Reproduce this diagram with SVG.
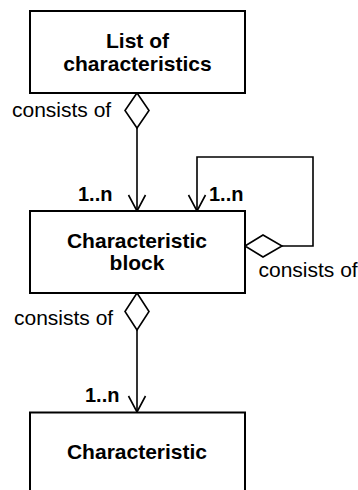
<svg xmlns="http://www.w3.org/2000/svg" width="358" height="490" viewBox="0 0 358 490">
<style>
.box{fill:#fff;stroke:#000;stroke-width:2}
.ln{fill:none;stroke:#000;stroke-width:1.6}
.dia{fill:#fff;stroke:#000;stroke-width:1.6;stroke-linejoin:miter}
.t{font-family:"Liberation Sans",Arial,sans-serif;font-size:21px;fill:#000}
.m{font-size:20px}
.b{font-weight:bold}
.c{text-anchor:middle}
</style>
<rect width="358" height="490" fill="#fff"/>
<g id="connectors">
<path class="ln" d="M137,128 V211"/>
<path class="ln" d="M128.5,195 L137,211 L145.5,195"/>
<path class="ln" d="M282,246 H313 V157 H197 V211"/>
<path class="ln" d="M188.5,195 L197,211 L205.5,195"/>
<path class="ln" d="M137,330 V412"/>
<path class="ln" d="M128.5,396 L137,412 L145.5,396"/>
<polygon class="dia" points="137,93 149,110.5 137,128 125,110.5"/>
<polygon class="dia" points="137,293 149,311.5 137,330 125,311.5"/>
<polygon class="dia" points="245,246 263,235 282,246 263,257"/>
<text class="t" x="12" y="117">consists of</text>
<text class="t" x="14" y="325">consists of</text>
<text class="t" x="258.5" y="277">consists of</text>
<text class="t m b" x="78" y="201">1..n</text>
<text class="t m b" x="209" y="201">1..n</text>
<text class="t m b" x="85" y="402">1..n</text>
</g>
<g id="list">
<rect class="box" x="30" y="11" width="215" height="82"/>
<text class="t b c" x="137.5" y="48">List of</text>
<text class="t b c" x="137.5" y="71">characteristics</text>
</g>
<g id="block">
<rect class="box" x="30" y="211" width="215" height="82"/>
<text class="t b c" x="137" y="248">Characteristic</text>
<text class="t b c" x="137" y="270">block</text>
</g>
<g id="characteristic">
<rect class="box" x="30" y="412.5" width="215" height="100"/>
<text class="t b c" x="137" y="459">Characteristic</text>
</g>
</svg>
